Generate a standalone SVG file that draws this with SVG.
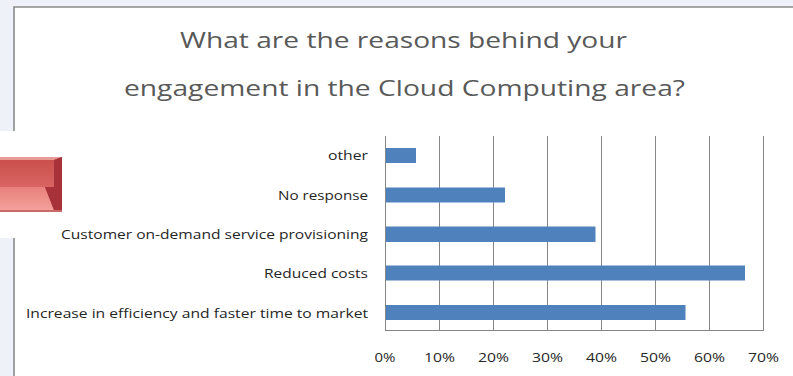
<svg xmlns="http://www.w3.org/2000/svg" width="793" height="376" viewBox="0 0 793 376">
<style>
.title{font-family:"Open Sans",Lato,"Liberation Sans",sans-serif;font-size:22.5px;fill:#595959;text-anchor:middle}
.cat{font-family:"Open Sans",Lato,"Liberation Sans",sans-serif;font-size:13.5px;fill:#262626;text-anchor:end}
.tick{font-family:"Open Sans",Lato,"Liberation Sans",sans-serif;font-size:13.5px;fill:#262626;text-anchor:middle}
.grid{stroke:#868686;stroke-width:1}
.bar{fill:#4f81bd}
.frame{stroke:#8a8a8a;stroke-width:1.6;fill:none}
</style>
<defs>
<linearGradient id="face" x1="0" y1="0" x2="0" y2="1">
<stop offset="0" stop-color="#c9504d"/>
<stop offset="1" stop-color="#d96461"/>
</linearGradient>
<linearGradient id="bottom" x1="0" y1="0" x2="0" y2="1">
<stop offset="0" stop-color="#e8807c"/>
<stop offset="1" stop-color="#f4a09b"/>
</linearGradient>
</defs>
<rect x="0" y="0" width="793" height="376" fill="#ffffff"/>
<rect x="0" y="0" width="793" height="7" fill="#eef1f8"/>
<rect x="0" y="0" width="14" height="376" fill="#eef1f8"/>
<rect x="14.8" y="7.8" width="779" height="369" fill="#ffffff"/>
<path class="frame" d="M14,376 V7 H793"/>
<g id="title">
<text class="title" x="403.5" y="48" textLength="447" lengthAdjust="spacingAndGlyphs">What are the reasons behind your</text>
<text class="title" x="404.5" y="96" textLength="561" lengthAdjust="spacingAndGlyphs">engagement in the Cloud Computing area?</text>
</g>
<g id="button">
<rect x="0" y="131" width="62" height="107" fill="#ffffff"/>
<rect x="0" y="157" width="62" height="55" fill="#b8403e"/>
<polygon points="0,157 62,157 54,160 0,160" fill="#e89a96"/>
<rect x="0" y="160" width="54" height="27" fill="url(#face)"/>
<polygon points="0,187 45,187 54,210 0,210" fill="url(#bottom)"/>
<polygon points="54,160 62,157 62,212 54,210 45,187 54,187" fill="#a8323a"/>
<rect x="0" y="210" width="62" height="2" fill="#c86a68"/>
</g>
<g id="grid">
<line class="grid" x1="439.5" y1="136" x2="439.5" y2="331"/>
<line class="grid" x1="493.5" y1="136" x2="493.5" y2="331"/>
<line class="grid" x1="547.5" y1="136" x2="547.5" y2="331"/>
<line class="grid" x1="601.5" y1="136" x2="601.5" y2="331"/>
<line class="grid" x1="655.5" y1="136" x2="655.5" y2="331"/>
<line class="grid" x1="709.5" y1="136" x2="709.5" y2="331"/>
<line class="grid" x1="763.5" y1="136" x2="763.5" y2="331"/>
<line class="grid" x1="385.5" y1="136" x2="385.5" y2="331"/>
<line class="grid" x1="385.5" y1="330.5" x2="763.5" y2="330.5"/>
</g>
<g id="bars">
<rect class="bar" x="386" y="148" width="30" height="15"/>
<rect class="bar" x="386" y="187.5" width="119" height="15"/>
<rect class="bar" x="386" y="226.5" width="209.5" height="15.5"/>
<rect class="bar" x="386" y="265.5" width="359" height="15"/>
<rect class="bar" x="386" y="305" width="299.5" height="15"/>
</g>
<g id="categories">
<text class="cat" x="368" y="160" textLength="40" lengthAdjust="spacingAndGlyphs">other</text>
<text class="cat" x="368" y="199.5" textLength="90" lengthAdjust="spacingAndGlyphs">No response</text>
<text class="cat" x="368" y="239" textLength="307" lengthAdjust="spacingAndGlyphs">Customer on-demand service provisioning</text>
<text class="cat" x="368" y="278" textLength="104" lengthAdjust="spacingAndGlyphs">Reduced costs</text>
<text class="cat" x="368" y="317.5" textLength="342" lengthAdjust="spacingAndGlyphs">Increase in efficiency and faster time to market</text>
</g>
<g id="ticks">
<text class="tick" x="385" y="362" textLength="21" lengthAdjust="spacingAndGlyphs">0%</text>
<text class="tick" x="439.5" y="362" textLength="31" lengthAdjust="spacingAndGlyphs">10%</text>
<text class="tick" x="493.5" y="362" textLength="31" lengthAdjust="spacingAndGlyphs">20%</text>
<text class="tick" x="547.5" y="362" textLength="31" lengthAdjust="spacingAndGlyphs">30%</text>
<text class="tick" x="601.5" y="362" textLength="31" lengthAdjust="spacingAndGlyphs">40%</text>
<text class="tick" x="655.5" y="362" textLength="31" lengthAdjust="spacingAndGlyphs">50%</text>
<text class="tick" x="709.5" y="362" textLength="31" lengthAdjust="spacingAndGlyphs">60%</text>
<text class="tick" x="763.5" y="362" textLength="31" lengthAdjust="spacingAndGlyphs">70%</text>
</g>
</svg>
